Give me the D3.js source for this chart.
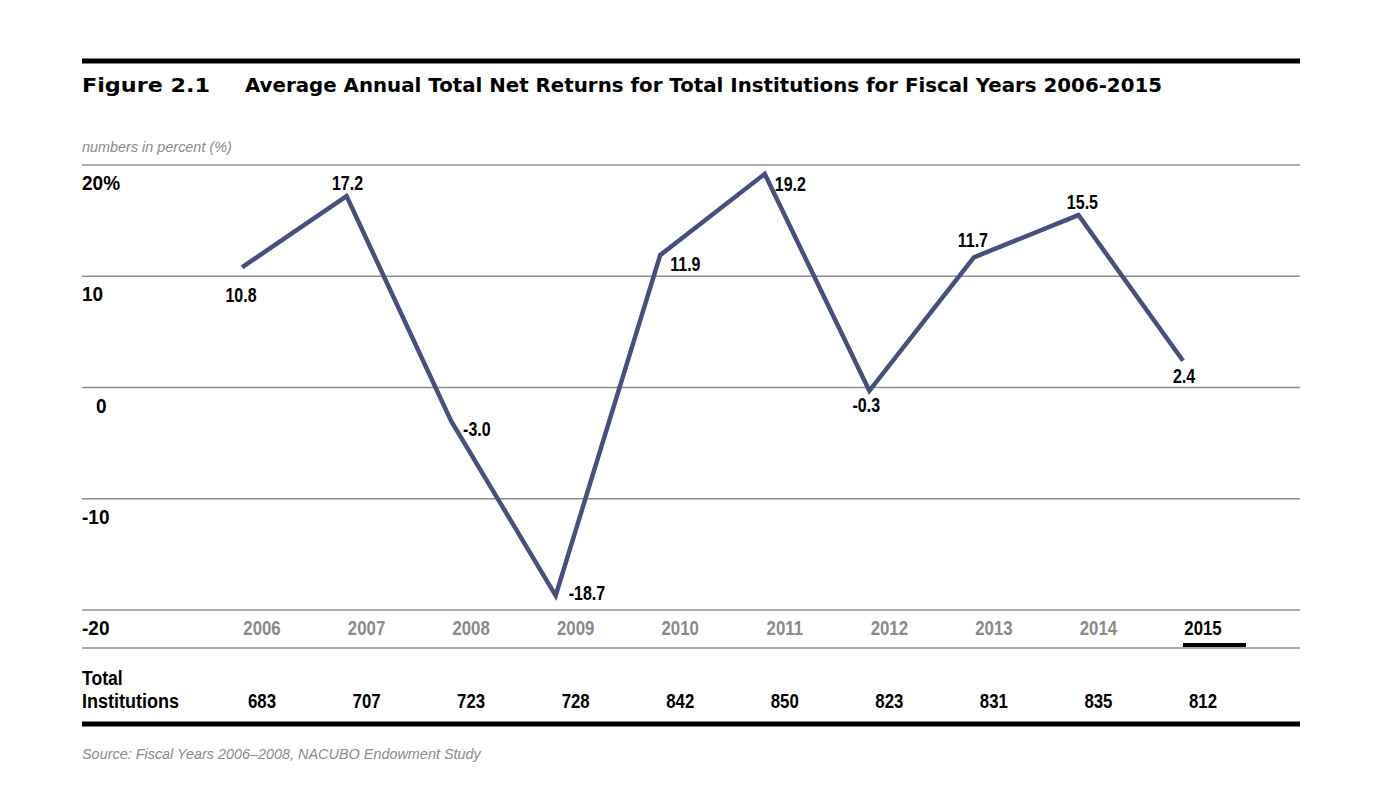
<!DOCTYPE html>
<html>
<head>
<meta charset="utf-8">
<script src="https://cdn.jsdelivr.net/npm/d3@7"></script>
<style>
  body { margin: 0; background: #fff; }
  svg { display: block; }
  .cond { font-family: "Liberation Sans", Arial, sans-serif; }
</style>
</head>
<body>
<svg id="chart" width="1382" height="788"></svg>
<script>
// Chart data
var years = [2006, 2007, 2008, 2009, 2010, 2011, 2012, 2013, 2014, 2015];
var returns = [10.8, 17.2, -3.0, -18.7, 11.9, 19.2, -0.3, 11.7, 15.5, 2.4];
var institutions = [683, 707, 723, 728, 842, 850, 823, 831, 835, 812];
var yTicks = [20, 10, 0, -10, -20];

// where each value label sits relative to its point: [dx, dy, anchor]
var labelPlace = [
  [-1, 35, "middle"], [1, -6, "middle"], [12, 15, "start"], [13, 4, "start"],
  [10, 16, "start"], [10, 17, "start"], [-3, 21, "middle"], [-1, -10, "middle"],
  [4, -6, "middle"], [1, 22, "middle"]
];

// Colours
var lineColour = '#474f80';
var gridColour = '#8c8c8c';
var greyText = '#8a8a8a';

// squeeze text horizontally to mimic a condensed face
function narrow(sel, factor) {
  sel.each(function () {
    var w = this.getComputedTextLength();
    d3.select(this)
      .attr("textLength", w * factor)
      .attr("lengthAdjust", "spacingAndGlyphs");
  });
}

var svg = d3.select("#chart");

var x = d3.scalePoint()
  .domain(years)
  .range([242, 1183]);

var y = d3.scaleLinear()
  .domain([-20, 20])
  .range([610, 165]);

// top rule
svg.append("line")
  .attr("x1", 82).attr("x2", 1300)
  .attr("y1", 61).attr("y2", 61)
  .attr("stroke", "#000").attr("stroke-width", 5);

svg.append("text")
  .attr("x", 82).attr("y", 92)
  .attr("font-family", "DejaVu Sans, sans-serif")
  .attr("font-weight", "bold")
  .attr("font-size", 19)
  .attr("textLength", 128).attr("lengthAdjust", "spacingAndGlyphs")
  .text("Figure 2.1");

svg.append("text")
  .attr("x", 245).attr("y", 92)
  .attr("font-family", "DejaVu Sans, sans-serif")
  .attr("font-weight", "bold")
  .attr("font-size", 19)
  .attr("textLength", 917).attr("lengthAdjust", "spacingAndGlyphs")
  .text("Average Annual Total Net Returns for Total Institutions for Fiscal Years 2006-2015");

svg.append("text")
  .attr("class", "cond")
  .attr("x", 82).attr("y", 152)
  .attr("font-size", 15.5)
  .attr("font-style", "italic")
  .attr("fill", greyText)
  .text("numbers in percent (%)")
  .call(narrow, 0.93);

// gridlines
svg.selectAll("line.grid")
  .data(yTicks)
  .enter().append("line")
  .attr("class", "grid")
  .attr("x1", 82).attr("x2", 1300)
  .attr("y1", function (d) { return y(d); })
  .attr("y2", function (d) { return y(d); })
  .attr("stroke", gridColour)
  .attr("stroke-width", 1.3);

svg.selectAll("text.ytick")
  .data(yTicks)
  .enter().append("text")
  .attr("class", "ytick cond")
  .attr("x", function (d) { return d === 0 ? 96 : 82; })
  .attr("y", function (d) { return y(d) + 25; })
  .attr("font-size", 20)
  .attr("font-weight", "bold")
  .text(function (d) { return d === 20 ? "20%" : d; })
  .call(narrow, 0.95);

// line below years
svg.append("line")
  .attr("x1", 82).attr("x2", 1300)
  .attr("y1", 648).attr("y2", 648)
  .attr("stroke", gridColour).attr("stroke-width", 1.3);

// year labels
svg.selectAll("text.year")
  .data(years)
  .enter().append("text")
  .attr("class", "year cond")
  .attr("x", function (d) { return x(d) + 20; })
  .attr("y", 635)
  .attr("text-anchor", "middle")
  .attr("font-size", 20)
  .attr("font-weight", "bold")
  .attr("fill", function (d, i) { return i === years.length - 1 ? "#000" : greyText; })
  .text(function (d) { return d; })
  .call(narrow, 0.84);

var lastYear = years[years.length - 1];
svg.append("line")
  .attr("x1", x(lastYear)).attr("x2", x(lastYear) + 63)
  .attr("y1", 645).attr("y2", 645)
  .attr("stroke", "#000").attr("stroke-width", 4);

// the line
var line = d3.line()
  .x(function (d, i) { return x(years[i]); })
  .y(function (d) { return y(d); });

svg.append("path")
  .datum(returns)
  .attr("d", line)
  .attr("fill", "none")
  .attr("stroke", lineColour)
  .attr("stroke-width", 4.5)
  .attr("stroke-linejoin", "miter");

// value labels
svg.selectAll("text.val")
  .data(returns)
  .enter().append("text")
  .attr("class", "val cond")
  .attr("x", function (d, i) { return x(years[i]) + labelPlace[i][0]; })
  .attr("y", function (d, i) { return y(d) + labelPlace[i][1]; })
  .attr("text-anchor", function (d, i) { return labelPlace[i][2]; })
  .attr("font-size", 20)
  .attr("font-weight", "bold")
  .text(function (d) { return d.toFixed(1); })
  .call(narrow, 0.8);

// table row
svg.append("text")
  .attr("class", "cond")
  .attr("x", 82).attr("y", 685)
  .attr("font-size", 20).attr("font-weight", "bold")
  .text("Total")
  .call(narrow, 0.88);
svg.append("text")
  .attr("class", "cond")
  .attr("x", 82).attr("y", 708)
  .attr("font-size", 20).attr("font-weight", "bold")
  .text("Institutions")
  .call(narrow, 0.9);

svg.selectAll("text.inst")
  .data(institutions)
  .enter().append("text")
  .attr("class", "inst cond")
  .attr("x", function (d, i) { return x(years[i]) + 20; })
  .attr("y", 708)
  .attr("text-anchor", "middle")
  .attr("font-size", 20)
  .attr("font-weight", "bold")
  .text(function (d) { return d; })
  .call(narrow, 0.84);

// bottom rule
svg.append("line")
  .attr("x1", 82).attr("x2", 1300)
  .attr("y1", 724).attr("y2", 724)
  .attr("stroke", "#000").attr("stroke-width", 5);

svg.append("text")
  .attr("class", "cond")
  .attr("x", 82).attr("y", 759)
  .attr("font-size", 15.5)
  .attr("font-style", "italic")
  .attr("fill", greyText)
  .text("Source: Fiscal Years 2006\u20132008, NACUBO Endowment Study")
  .call(narrow, 0.93);
</script>
</body>
</html>
